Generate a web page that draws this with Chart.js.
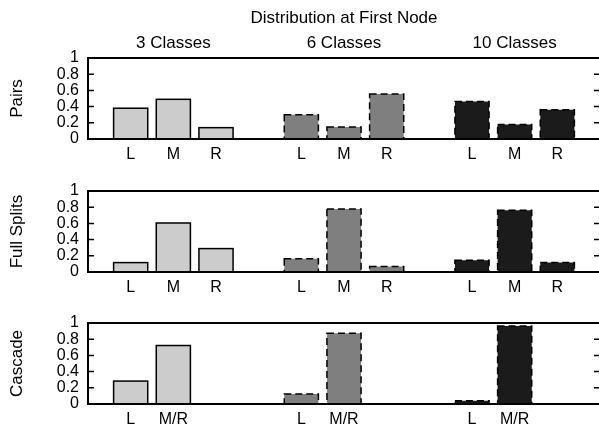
<!DOCTYPE html>
<html><head><meta charset="utf-8">
<script src="https://cdn.jsdelivr.net/npm/chart.js@4.4.1/dist/chart.umd.min.js"></script>
<style>
html,body{margin:0;padding:0;background:#fff;}
#wrap{position:relative;width:599px;height:427px;overflow:hidden;background:#fff;}
canvas{position:absolute;left:0;}
</style></head><body>
<div id="wrap">
<canvas id="c1" width="610" height="169" style="top:0px"></canvas>
<canvas id="c2" width="610" height="133" style="top:169px"></canvas>
<canvas id="c3" width="610" height="132" style="top:302px"></canvas>
</div>
<script>
// ---- data ----
const mainTitle = 'Distribution at First Node';
const groupTitles = ['3 Classes', '6 Classes', '10 Classes'];
const rowTitles = ['Pairs', 'Full Splits', 'Cascade'];
const categoriesLMR = ['', 'L', 'M', 'R', '', 'L', 'M', 'R', '', 'L', 'M', 'R', ''];
const categoriesCascade = ['', 'L', 'M/R', '', '', 'L', 'M/R', '', '', 'L', 'M/R', '', ''];
const yTickLabels = ['0', '0.2', '0.4', '0.6', '0.8', '1'];

const pairs3 = [0.38, 0.49, 0.14];
const pairs6 = [0.30, 0.148, 0.555];
const pairs10 = [0.463, 0.18, 0.362];

const full3 = [0.116, 0.605, 0.289];
const full6 = [0.165, 0.778, 0.067];
const full10 = [0.144, 0.762, 0.116];

const cascade3 = [0.283, 0.722];
const cascade6 = [0.123, 0.873];
const cascade10 = [0.041, 0.963];

// ---- helpers ----
const FONT = "'Liberation Sans', Arial, Helvetica, sans-serif";
Chart.defaults.color = '#000';
Chart.defaults.font.family = FONT;

function place(vals, start) {
  const arr = new Array(13).fill(null);
  vals.forEach((v, i) => { arr[start + i] = v; });
  return arr;
}

const groupStyles = [
  { bg: '#cccccc', dash: [] },
  { bg: '#7f7f7f', dash: [7, 4] },
  { bg: '#1b1b1b', dash: [7, 4] }
];

const framePlugin = {
  id: 'frame',
  afterDatasetsDraw(chart) {
    const ctx = chart.ctx;
    const a = chart.chartArea;
    ctx.save();
    chart.data.datasets.forEach((ds, di) => {
      const meta = chart.getDatasetMeta(di);
      meta.data.forEach((bar, i) => {
        if (ds.data[i] == null) return;
        const p = bar.getProps(['x', 'y', 'base', 'width'], true);
        ctx.setLineDash(ds.outlineDash || []);
        ctx.lineWidth = 1.5;
        ctx.strokeStyle = '#000';
        ctx.strokeRect(p.x - p.width / 2, p.y, p.width, p.base - p.y);
      });
    });
    ctx.setLineDash([]);
    ctx.lineWidth = 2;
    ctx.strokeStyle = '#000';
    ctx.beginPath();
    ctx.moveTo(a.left - 1, a.top); ctx.lineTo(a.right, a.top);
    ctx.moveTo(a.left - 1, a.bottom); ctx.lineTo(a.right, a.bottom);
    ctx.moveTo(a.left, a.top); ctx.lineTo(a.left, a.bottom);
    ctx.stroke();
    const ys = chart.scales.y;
    ctx.lineWidth = 1.5;
    ctx.beginPath();
    ys.ticks.forEach(t => {
      if (t.value <= 0 || t.value >= 1) return;
      const y = ys.getPixelForValue(t.value);
      ctx.moveTo(a.left, y); ctx.lineTo(a.left + 6, y);
      ctx.moveTo(a.right, y); ctx.lineTo(a.right - 6, y);
    });
    ctx.stroke();
    ctx.restore();
  }
};

const headerPlugin = {
  id: 'header',
  afterDraw(chart, args, opts) {
    if (!opts.show) return;
    const ctx = chart.ctx;
    const xs = chart.scales.x;
    ctx.save();
    ctx.fillStyle = '#000';
    ctx.font = '17px ' + FONT;
    ctx.textAlign = 'center';
    ctx.textBaseline = 'alphabetic';
    ctx.fillText(mainTitle, xs.getPixelForValue(6), 23);
    [2, 6, 10].forEach((idx, g) => {
      ctx.fillText(groupTitles[g], xs.getPixelForValue(idx), 48);
    });
    ctx.restore();
  }
};

function makeChart(id, labels, groups, rowTitle, padTop, header) {
  const starts = [1, 5, 9];
  const datasets = groups.map((vals, g) => ({
    label: groupTitles[g],
    data: place(vals, starts[g]),
    backgroundColor: groupStyles[g].bg,
    borderWidth: 0,
    outlineDash: groupStyles[g].dash,
    barPercentage: 0.8,
    categoryPercentage: 1.0,
    grouped: false
  }));
  return new Chart(document.getElementById(id), {
    type: 'bar',
    data: { labels: labels, datasets: datasets },
    options: {
      responsive: false,
      animation: false,
      layout: { padding: { top: padTop, left: 0, right: 10, bottom: 0 } },
      plugins: {
        legend: { display: false },
        tooltip: { enabled: false },
        header: { show: header }
      },
      scales: {
        x: {
          offset: false,
          grid: { display: false, drawTicks: false },
          border: { display: false },
          ticks: { autoSkip: false, maxRotation: 0, padding: 6, font: { size: 16, family: FONT }, color: '#000' },
          afterFit: s => { s.height = 30; }
        },
        y: {
          min: 0, max: 1,
          grid: { display: false, drawTicks: false },
          border: { display: false },
          ticks: {
            stepSize: 0.2, autoSkip: false, padding: 9,
            font: { size: 16, family: FONT }, color: '#000',
            callback: (v, i) => yTickLabels[i]
          },
          title: { display: true, text: rowTitle, font: { size: 17, family: FONT }, color: '#000', padding: { top: 7, bottom: 0 } },
          afterFit: s => { s.width = 88; }
        }
      }
    },
    plugins: [framePlugin, headerPlugin]
  });
}

makeChart('c1', categoriesLMR, [pairs3, pairs6, pairs10], rowTitles[0], 58, true);
makeChart('c2', categoriesLMR, [full3, full6, full10], rowTitles[1], 22, false);
makeChart('c3', categoriesCascade, [cascade3, cascade6, cascade10], rowTitles[2], 21, false);
</script>
</body></html>
